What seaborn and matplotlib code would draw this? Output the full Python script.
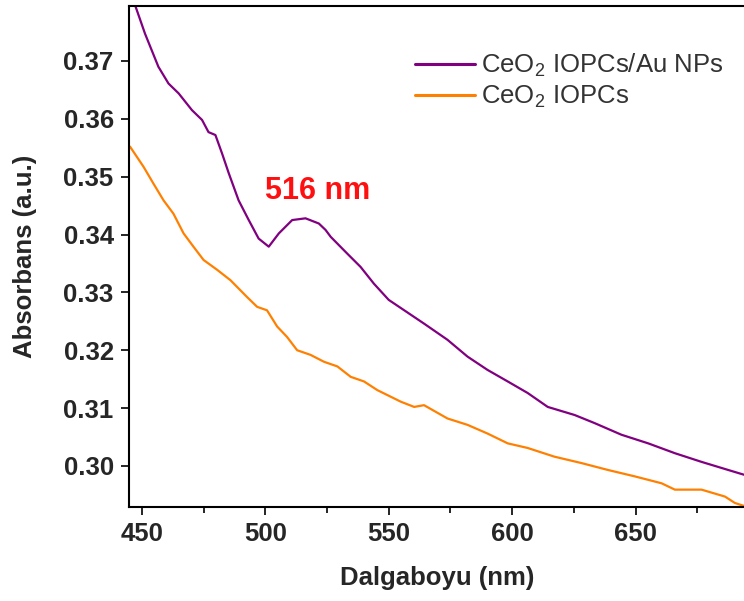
import numpy as np
import pandas as pd
import matplotlib
matplotlib.use("Agg")
import matplotlib.pyplot as plt
import seaborn as sns
from matplotlib.ticker import MultipleLocator, FormatStrFormatter

# ---- data ----
au_nm = [445.0, 447.3, 451.3, 456.7, 460.8, 464.9, 470.3, 474.4, 477.0, 479.8,
         482.5, 485.2, 489.2, 493.3, 497.3, 501.4, 505.5, 510.9, 516.3, 521.7,
         524.4, 526.5, 533.2, 538.6, 544.0, 550.0, 564.3, 573.8, 581.9, 590.0,
         598.2, 606.3, 614.4, 625.3, 633.4, 644.2, 655.1, 665.9, 676.7, 687.5,
         694.5]
au_abs = [0.3824, 0.3796, 0.3747, 0.3690, 0.3661, 0.3644, 0.3615, 0.3598, 0.3577, 0.3572,
          0.3540, 0.3506, 0.3459, 0.3425, 0.3393, 0.3379, 0.3402, 0.3425, 0.3428, 0.3419,
          0.3408, 0.3396, 0.3367, 0.3344, 0.3315, 0.3287, 0.3246, 0.3218, 0.3189, 0.3166,
          0.3146, 0.3126, 0.3102, 0.3088, 0.3074, 0.3054, 0.3039, 0.3022, 0.3007, 0.2993,
          0.2984]

ce_nm = [445.2, 450.7, 454.7, 458.8, 462.8, 466.9, 470.9, 475.0, 480.5, 485.9,
         492.6, 496.7, 500.7, 504.8, 508.8, 512.9, 518.3, 523.8, 529.2, 534.6,
         540.0, 545.4, 554.9, 560.3, 564.3, 573.8, 581.9, 590.0, 598.2, 606.3,
         617.1, 628.0, 638.8, 649.6, 660.5, 665.9, 676.7, 686.2, 690.2, 694.5]
ce_abs = [0.3552, 0.3517, 0.3488, 0.3459, 0.3436, 0.3402, 0.3379, 0.3356, 0.3339, 0.3321,
          0.3292, 0.3275, 0.3269, 0.3241, 0.3223, 0.3200, 0.3192, 0.3180, 0.3172, 0.3154,
          0.3146, 0.3131, 0.3111, 0.3102, 0.3105, 0.3082, 0.3071, 0.3056, 0.3039, 0.3031,
          0.3016, 0.3005, 0.2993, 0.2982, 0.2970, 0.2959, 0.2959, 0.2947, 0.2936, 0.2930]

labels = ["CeO$_2$ IOPCs/Au NPs", "CeO$_2$ IOPCs"]
colors = ["#800080", "#FF8000"]
x_ticks = [450, 500, 550, 600, 650]
y_ticks = [0.30, 0.31, 0.32, 0.33, 0.34, 0.35, 0.36, 0.37]

df = pd.concat([
    pd.DataFrame({"wl": au_nm, "abs": au_abs, "sample": labels[0]}),
    pd.DataFrame({"wl": ce_nm, "abs": ce_abs, "sample": labels[1]}),
], ignore_index=True)

sns.set_theme(style="ticks")
plt.rcParams["font.family"] = ["Liberation Sans", "DejaVu Sans"]
plt.rcParams["mathtext.default"] = "regular"

fig = plt.figure(figsize=(7.44, 6.01), dpi=100)
ax = fig.add_axes([129/744, 1 - 507/601, 1 - 129/744 + 0.002, (507 - 6)/601])

sns.lineplot(data=df, x="wl", y="abs", hue="sample", hue_order=labels,
             palette=dict(zip(labels, colors)), sort=False, estimator=None,
             linewidth=1.6, ax=ax)

ax.set_xlim(444.8, 694.5)
ax.set_ylim(0.2929, 0.3795)
ax.set_xticks(x_ticks)
ax.set_yticks(y_ticks)
ax.xaxis.set_minor_locator(MultipleLocator(25))
ax.yaxis.set_major_formatter(FormatStrFormatter("%.2f"))

ax.tick_params(axis="both", which="major", direction="out", length=6, width=1.2,
               labelsize=18.5, color="black", pad=5)
ax.tick_params(axis="x", which="minor", direction="out", length=4, width=1.2, color="black")
for lab in ax.get_xticklabels() + ax.get_yticklabels():
    lab.set_fontweight("bold")

for side in ["left", "bottom", "top"]:
    ax.spines[side].set_linewidth(1.5)
    ax.spines[side].set_color("black")
ax.spines["right"].set_visible(False)

ax.set_xlabel("Dalgaboyu (nm)", fontsize=18.5, fontweight="bold", labelpad=14)
ax.set_ylabel("Absorbans (a.u.)", fontsize=18.5, fontweight="bold", labelpad=19)

ax.text(521.4, 0.3475, "516 nm", color="#FF1010", fontsize=22, fontweight="bold",
        ha="center", va="center")

leg = ax.legend(loc="upper right", bbox_to_anchor=(0.994, 0.945), frameon=False,
                fontsize=18.5, handlelength=2.35, handletextpad=0.25,
                labelspacing=0.2, borderaxespad=0.3)
for t in leg.get_texts():
    t.set_color("#333333")
for l in leg.get_lines():
    l.set_linewidth(2.2)

fig.savefig("out.png", dpi=100)
